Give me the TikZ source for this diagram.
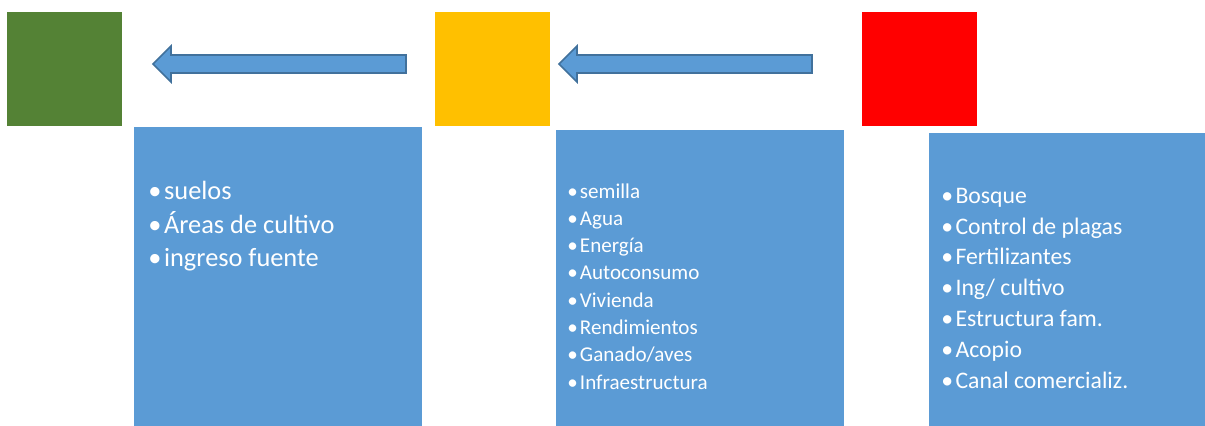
\documentclass[tikz,border=0pt]{standalone}
\usepackage{fontspec}
\setmainfont{Carlito}
\usetikzlibrary{positioning}

\definecolor{sqgreen}{HTML}{548235}
\definecolor{sqyellow}{HTML}{FFC000}
\definecolor{sqred}{HTML}{FF0000}
\definecolor{boxblue}{HTML}{5B9BD5}
\definecolor{arrowline}{HTML}{41719C}

\newcommand{\bul}{•\hspace{0.1em}}

\tikzset{
  square/.style={anchor=north west,inner sep=0pt,minimum width=2.3cm,minimum height=2.28cm},
  listbox/.style={anchor=north west,inner sep=0pt,fill=boxblue,minimum width=5.76cm},
  blockarrow/.style={fill=boxblue,draw=arrowline,line width=0.9pt,line join=miter},
  item/.style={anchor=base west,inner sep=0pt,text=white}
}

\begin{document}
\begin{tikzpicture}[x=0.02cm,y=-0.02cm]
 \useasboundingbox (0,0) rectangle (1205,426);

% Coloured squares
 \node[square,fill=sqgreen] (green) at (7,12) {};
 \node[square,fill=sqyellow] (yellow) at (435,12) {};
 \node[square,fill=sqred] (red) at (862,12) {};

% Block arrows between the squares
 \draw[blockarrow] (406,55) -- (171,55) -- (171,46) -- (153,64) -- (171,82) -- (171,73) -- (406,73) -- cycle;
 \draw[blockarrow] (812,55) -- (577,55) -- (577,46) -- (559,64) -- (577,82) -- (577,73) -- (812,73) -- cycle;

% Blue boxes under the squares
 \node[listbox,minimum height=5.98cm] (box1) at (134,127) {};
 \node[listbox,minimum height=5.92cm] (box2) at (556,130) {};
 \node[listbox,minimum width=5.52cm,minimum height=5.86cm] (box3) at (929,133) {};

% Lists
 \foreach \t [count=\i] in {suelos,Áreas de cultivo,ingreso fuente}
   \node[item,font=\fontsize{15pt}{18pt}\selectfont] (a\i) at (148,{199.3+33.7*(\i-1)}) {\bul\t};
 \foreach \t [count=\i] in {semilla,Agua,Energía,Autoconsumo,Vivienda,Rendimientos,Ganado/aves,Infraestructura}
   \node[item,font=\fontsize{12pt}{14pt}\selectfont] (b\i) at (567,{198+27.3*(\i-1)}) {\bul\t};
 \foreach \t [count=\i] in {Bosque,Control de plagas,Fertilizantes,Ing/ cultivo,Estructura fam.,Acopio,Canal comercializ.}
   \node[item,font=\fontsize{13.5pt}{16pt}\selectfont] (c\i) at (941,{203.3+30.8*(\i-1)}) {\bul\t};

\end{tikzpicture}
\end{document}
